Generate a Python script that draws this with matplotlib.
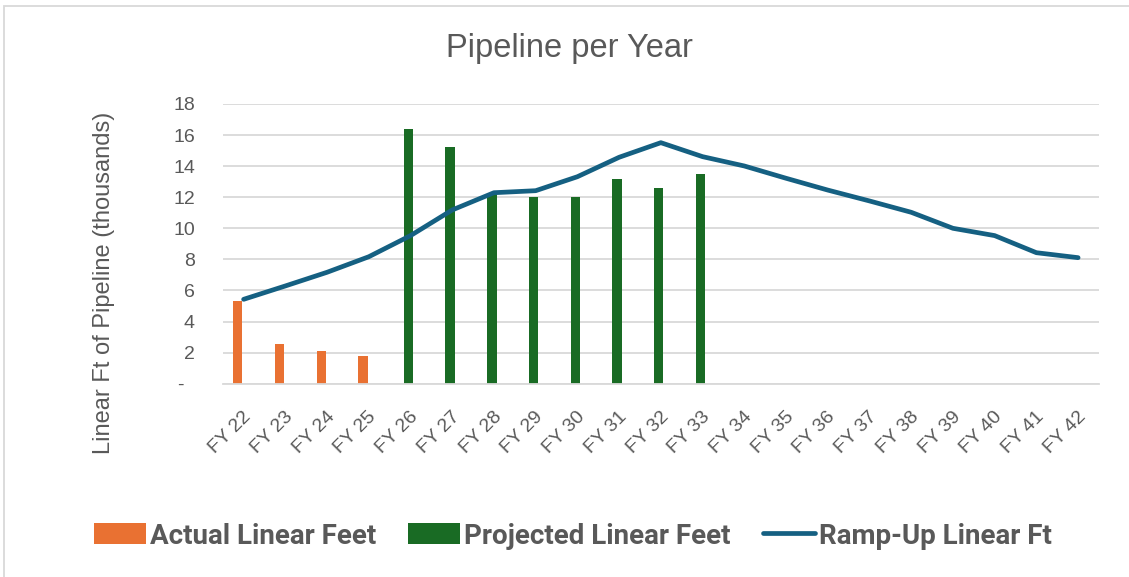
import numpy as np
import matplotlib
matplotlib.use("Agg")
import matplotlib.pyplot as plt
import matplotlib.transforms as mtransforms
from matplotlib.patches import Rectangle

# fiscal years and values, in thousands of linear feet
years = ["FY 22", "FY 23", "FY 24", "FY 25", "FY 26", "FY 27", "FY 28",
         "FY 29", "FY 30", "FY 31", "FY 32", "FY 33", "FY 34", "FY 35",
         "FY 36", "FY 37", "FY 38", "FY 39", "FY 40", "FY 41", "FY 42"]
actual_ft = [5.3, 2.55, 2.1, 1.78]
projected_ft = [16.4, 15.23, 12.25, 12.0, 12.0, 13.17, 12.57, 13.47]
ramp_up_ft = [5.43, 6.29, 7.17, 8.17, 9.53, 11.18, 12.29, 12.42, 13.32, 14.57,
              15.51, 14.61, 14.01, 13.22, 12.46, 11.76, 11.03, 10.0, 9.53,
              8.43, 8.11]
y_ticks = [0, 2, 4, 6, 8, 10, 12, 14, 16, 18]
y_tick_labels = ["-  ", "2", "4", "6", "8", "10", "12", "14", "16", "18"]

ORANGE = "#E97132"
GREEN = "#196B24"
BLUE = "#156082"
GREY = "#595959"
GRID = "#D9D9D9"

plt.rcParams["font.family"] = ["Liberation Sans", "DejaVu Sans"]

fig = plt.figure(figsize=(11.29, 5.77), dpi=100)
ax = fig.add_axes([0.1973, 0.335, 0.7761, 0.4848])

x = np.arange(len(years))
bar_w = 0.225
n_act = len(actual_ft)
n_proj = len(projected_ft)
b1 = ax.bar(x[:n_act] - 0.14, actual_ft, width=bar_w, color=ORANGE,
            label="Actual Linear Feet", zorder=2)
b2 = ax.bar(x[n_act:n_act + n_proj] - 0.05, projected_ft, width=bar_w,
            color=GREEN, label="Projected Linear Feet", zorder=2)
ln, = ax.plot(x, ramp_up_ft, color=BLUE, linewidth=3.4, solid_capstyle="round",
              solid_joinstyle="round", label="Ramp-Up Linear Ft", zorder=3)

ax.set_xlim(-0.5, len(years) - 0.5)
ax.set_ylim(0, 18)
ax.set_yticks(y_ticks)
ax.set_yticklabels(y_tick_labels)
ax.yaxis.grid(True, color=GRID, linewidth=1.3, zorder=0)
ax.set_axisbelow(True)
for side in ["top", "right", "left"]:
    ax.spines[side].set_visible(False)
ax.spines["bottom"].set_color(GRID)
ax.spines["bottom"].set_linewidth(1.3)
ax.tick_params(axis="both", length=0, colors=GREY, labelsize=14)
ax.tick_params(axis="y", pad=20)

ax.set_xticks(x)
ax.set_xticklabels(years, rotation=45, ha="right", va="center",
                   rotation_mode="anchor")
ax.tick_params(axis="x", pad=22)
# nudge the slanted year labels a little to the right
shift = mtransforms.ScaledTranslation(5 / 100, 0, fig.dpi_scale_trans)
for lbl in ax.get_xticklabels():
    lbl.set_transform(lbl.get_transform() + shift)

ax.set_ylabel("Linear Ft of Pipeline (thousands)", fontsize=17, color=GREY)
ax.yaxis.set_label_coords(-0.123, 0.36)

fig.text(569 / 1129, 1 - 48 / 577, "Pipeline per Year", fontsize=23.5,
         color=GREY, ha="center", va="center")

leg = fig.legend([b1, b2, ln],
                 ["Actual Linear Feet", "Projected Linear Feet",
                  "Ramp-Up Linear Ft"],
                 loc="center", bbox_to_anchor=(573 / 1129, 1 - 536 / 577),
                 ncol=3, frameon=False, handlelength=1.87, handleheight=0.8,
                 handletextpad=0.15, columnspacing=1.15,
                 prop={"family": ["Roboto", "DejaVu Sans"],
                       "weight": "bold", "size": 20})
for t in leg.get_texts():
    t.set_color(GREY)

# chart area outline
fig.patches.append(Rectangle((4 / 1129, -0.1), 1.2, 1 - 6 / 577 + 0.1,
                             transform=fig.transFigure, fill=False,
                             edgecolor=GRID, linewidth=1.3))

fig.savefig("out.png", dpi=100)
